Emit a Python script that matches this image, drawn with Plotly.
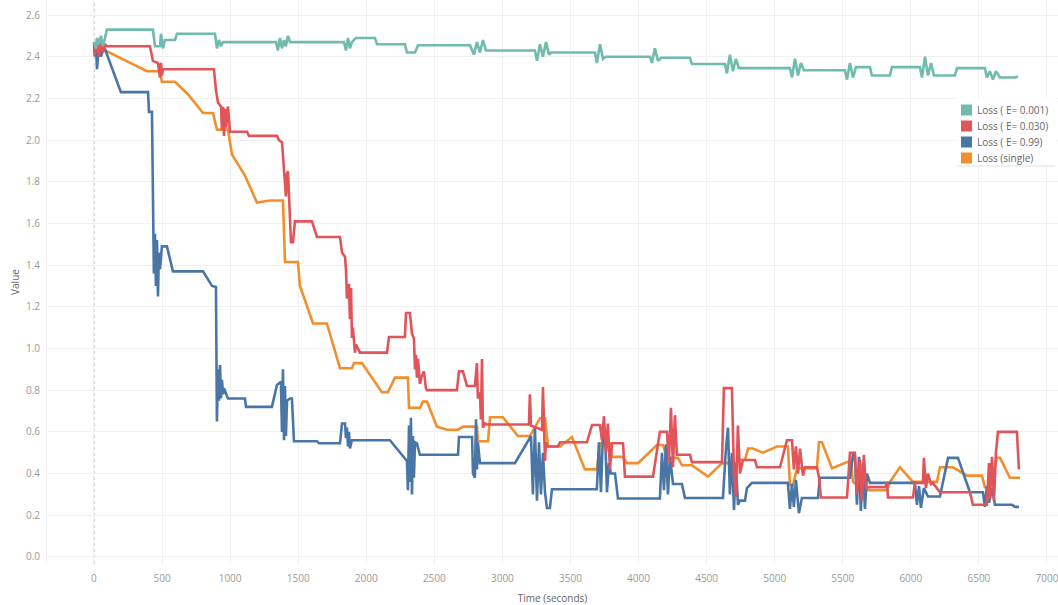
import plotly.graph_objects as go

# ---- data (time in seconds, loss values) ----
teal_t = [0, 15, 22, 37, 51, 66, 81, 95, 433, 448, 485, 492, 507, 521, 595, 610, 889, 903, 918, 933, 948,
          1337, 1351, 1366, 1381, 1396, 1410, 1425, 1440, 1836, 1851, 1866, 1880, 1895, 1924, 2064, 2079,
          2284, 2299, 2358, 2380, 2762, 2791, 2813, 2835, 2857, 2879, 3239, 3254, 3276, 3298, 3320, 3342,
          3357, 3680, 3694, 3717, 3739, 3761, 4084, 4098, 4120, 4143, 4165, 4378, 4392, 4635, 4649, 4671,
          4693, 4715, 4737, 5112, 5127, 5149, 5171, 5193, 5215, 5516, 5531, 5553, 5575, 5597, 5700, 5714,
          5847, 5861, 6067, 6082, 6104, 6126, 6148, 6170, 6324, 6339, 6544, 6559, 6581, 6603, 6625, 6655,
          6765, 6787]
teal_v = [2.47, 2.44, 2.49, 2.46, 2.50, 2.45, 2.49, 2.53, 2.53, 2.45, 2.45, 2.51, 2.44, 2.48, 2.48, 2.51, 2.51,
          2.44, 2.48, 2.45, 2.47, 2.47, 2.43, 2.49, 2.44, 2.48, 2.45, 2.50, 2.47, 2.47, 2.43, 2.49, 2.44,
          2.47, 2.49, 2.49, 2.46, 2.46, 2.42, 2.42, 2.455, 2.455, 2.41, 2.47, 2.42, 2.48, 2.43, 2.43, 2.38,
          2.46, 2.40, 2.47, 2.41, 2.42, 2.42, 2.37, 2.46, 2.39, 2.40, 2.40, 2.37, 2.44, 2.38, 2.395, 2.395,
          2.365, 2.365, 2.32, 2.41, 2.33, 2.39, 2.345, 2.345, 2.30, 2.39, 2.31, 2.37, 2.335, 2.335, 2.29,
          2.37, 2.30, 2.35, 2.35, 2.31, 2.31, 2.35, 2.35, 2.30, 2.40, 2.31, 2.37, 2.31, 2.31, 2.345, 2.345,
          2.30, 2.33, 2.29, 2.33, 2.30, 2.30, 2.305]

red_t = [0, 7, 22, 37, 51, 66, 81, 95, 411, 433, 470, 485, 492, 499, 507, 881, 896, 911, 933, 940, 948, 955,
         962, 970, 984, 999, 1124, 1139, 1344, 1359, 1381, 1396, 1403, 1410, 1418, 1425, 1440, 1447, 1462,
         1476, 1601, 1638, 1807, 1822, 1844, 1851, 1858, 1873, 1880, 1888, 1895, 1902, 1917, 1924, 1954,
         2152, 2167, 2284, 2292, 2321, 2336, 2350, 2358, 2365, 2372, 2380, 2394, 2409, 2424, 2438, 2446,
         2666, 2681, 2710, 2740, 2798, 2813, 2820, 2835, 2842, 2850, 2857, 2872, 2887, 3195, 3202, 3210,
         3291, 3298, 3305, 3313, 3320, 3327, 3408, 3423, 3621, 3658, 3717, 3731, 3746, 3761, 3775, 3790,
         3805, 3886, 3900, 4106, 4157, 4209, 4223, 4238, 4253, 4267, 4282, 4378, 4392, 4613, 4627, 4686,
         4701, 4715, 4730, 4745, 4767, 4855, 4870, 5039, 5090, 5127, 5141, 5156, 5171, 5186, 5208, 5222,
         5310, 5325, 5340, 5531, 5553, 5589, 5604, 5626, 5641, 5655, 5670, 5700, 5817, 5825, 5832, 6016,
         6030, 6089, 6096, 6111, 6126, 6148, 6162, 6214, 6434, 6456, 6559, 6574, 6581, 6596, 6611, 6625,
         6640, 6779, 6794]
red_v = [2.45, 2.41, 2.47, 2.40, 2.48, 2.42, 2.46, 2.45, 2.45, 2.38, 2.37, 2.30, 2.37, 2.31, 2.34, 2.34, 2.24,
         2.18, 2.16, 2.05, 2.16, 2.02, 2.15, 2.06, 2.16, 2.04, 2.04, 2.02, 2.02, 2.00, 1.99, 1.86, 1.80, 1.73,
         1.84, 1.85, 1.62, 1.51, 1.51, 1.61, 1.61, 1.535, 1.535, 1.46, 1.44, 1.38, 1.24, 1.31, 1.14, 1.29,
         1.05, 1.10, 0.98, 1.02, 0.98, 0.98, 1.055, 1.055, 1.17, 1.17, 1.07, 1.05, 0.90, 0.97, 0.86, 0.95,
         0.83, 0.87, 0.89, 0.81, 0.80, 0.80, 0.89, 0.89, 0.82, 0.82, 0.93, 0.76, 0.79, 0.66, 0.95, 0.62,
         0.64, 0.635, 0.635, 0.78, 0.63, 0.61, 0.815, 0.62, 0.46, 0.55, 0.53, 0.53, 0.55, 0.55, 0.633, 0.633,
         0.56, 0.675, 0.50, 0.64, 0.42, 0.545, 0.545, 0.385, 0.385, 0.60, 0.60, 0.45, 0.715, 0.43, 0.68,
         0.49, 0.49, 0.455, 0.455, 0.81, 0.81, 0.40, 0.29, 0.63, 0.40, 0.465, 0.465, 0.43, 0.43, 0.56, 0.56,
         0.42, 0.53, 0.40, 0.52, 0.39, 0.43, 0.43, 0.385, 0.285, 0.285, 0.50, 0.50, 0.30, 0.47, 0.27, 0.49,
         0.33, 0.335, 0.335, 0.36, 0.285, 0.285, 0.355, 0.355, 0.475, 0.33, 0.40, 0.35, 0.355, 0.31, 0.31,
         0.25, 0.25, 0.45, 0.28, 0.48, 0.27, 0.50, 0.60, 0.60, 0.42]

blue_t = [0, 7, 15, 22, 37, 51, 73, 198, 397, 404, 426, 433, 440, 448, 455, 463, 470, 477, 485, 499, 536, 580,
          801, 867, 896, 903, 911, 918, 926, 933, 940, 948, 955, 984, 1109, 1117, 1307, 1344, 1373, 1381,
          1388, 1396, 1403, 1410, 1418, 1440, 1454, 1469, 1638, 1652, 1807, 1822, 1844, 1851, 1858, 1866,
          1873, 1880, 1895, 2174, 2299, 2306, 2314, 2321, 2328, 2336, 2343, 2350, 2358, 2372, 2394, 2674,
          2681, 2777, 2784, 2798, 2806, 2813, 2820, 2835, 2887, 3092, 3210, 3224, 3239, 3254, 3269, 3283,
          3298, 3313, 3327, 3349, 3364, 3694, 3709, 3724, 3739, 3753, 3768, 3783, 3797, 3827, 3849, 4157,
          4172, 4187, 4201, 4216, 4231, 4253, 4319, 4341, 4620, 4642, 4657, 4671, 4686, 4701, 4715, 4730,
          4745, 4782, 4796, 4833, 5097, 5112, 5127, 5141, 5156, 5178, 5200, 5318, 5332, 5553, 5575, 5589,
          5604, 5619, 5633, 5648, 5663, 5678, 5700, 6030, 6045, 6060, 6074, 6096, 6126, 6214, 6273, 6346,
          6434, 6530, 6544, 6559, 6574, 6596, 6618, 6743, 6765, 6794]
blue_v = [2.47, 2.40, 2.46, 2.34, 2.45, 2.40, 2.45, 2.23, 2.23, 2.135, 2.135, 1.55, 1.36, 1.55, 1.30, 1.52,
          1.25, 1.46, 1.38, 1.49, 1.49, 1.37, 1.37, 1.30, 1.295, 0.65, 0.90, 0.75, 0.92, 0.76, 0.85, 0.78,
          0.81, 0.76, 0.76, 0.72, 0.72, 0.825, 0.84, 0.60, 0.90, 0.56, 0.82, 0.58, 0.75, 0.76, 0.76, 0.555,
          0.555, 0.545, 0.545, 0.64, 0.64, 0.57, 0.62, 0.53, 0.60, 0.52, 0.56, 0.56, 0.46, 0.32, 0.63, 0.36,
          0.667, 0.30, 0.58, 0.38, 0.55, 0.545, 0.49, 0.49, 0.575, 0.575, 0.40, 0.38, 0.66, 0.42, 0.55, 0.45,
          0.45, 0.45, 0.58, 0.30, 0.62, 0.27, 0.55, 0.30, 0.50, 0.31, 0.235, 0.235, 0.325, 0.325, 0.55, 0.31,
          0.60, 0.62, 0.31, 0.45, 0.40, 0.40, 0.28, 0.28, 0.50, 0.32, 0.54, 0.30, 0.48, 0.35, 0.35, 0.283,
          0.283, 0.52, 0.62, 0.30, 0.50, 0.225, 0.45, 0.25, 0.27, 0.27, 0.33, 0.355, 0.355, 0.23, 0.35, 0.24,
          0.37, 0.21, 0.283, 0.283, 0.38, 0.38, 0.49, 0.49, 0.25, 0.48, 0.22, 0.45, 0.23, 0.40, 0.355, 0.355,
          0.25, 0.34, 0.235, 0.33, 0.29, 0.29, 0.475, 0.475, 0.31, 0.31, 0.24, 0.34, 0.26, 0.33, 0.25, 0.25,
          0.24, 0.24]

orange_t = [0, 81, 389, 485, 499, 595, 690, 801, 874, 903, 984, 1014, 1109, 1197, 1293, 1388, 1403, 1498,
            1513, 1609, 1711, 1807, 1895, 1910, 1968, 2115, 2159, 2211, 2306, 2314, 2394, 2417, 2446, 2519,
            2593, 2674, 2710, 2813, 2820, 2894, 2909, 3004, 3114, 3202, 3276, 3313, 3335, 3423, 3511, 3606,
            3694, 3717, 3790, 3805, 3886, 3915, 3996, 4135, 4179, 4209, 4289, 4319, 4392, 4510, 4613, 4671,
            4723, 4745, 4782, 4804, 4840, 4914, 5017, 5097, 5112, 5134, 5164, 5310, 5325, 5347, 5421, 5531,
            5560, 5575, 5670, 5825, 5847, 5920, 6016, 6192, 6214, 6309, 6412, 6522, 6544, 6581, 6632, 6655,
            6728, 6802]
orange_v = [2.46, 2.43, 2.33, 2.33, 2.28, 2.28, 2.22, 2.13, 2.13, 2.05, 2.05, 1.93, 1.83, 1.70, 1.71, 1.71,
            1.415, 1.415, 1.30, 1.12, 1.12, 0.905, 0.905, 0.93, 0.93, 0.79, 0.79, 0.86, 0.86, 0.715, 0.715,
            0.745, 0.745, 0.625, 0.61, 0.61, 0.625, 0.625, 0.555, 0.555, 0.67, 0.67, 0.58, 0.58, 0.665, 0.665,
            0.53, 0.53, 0.575, 0.42, 0.42, 0.545, 0.545, 0.48, 0.48, 0.45, 0.45, 0.537, 0.537, 0.475, 0.475,
            0.44, 0.44, 0.385, 0.45, 0.45, 0.45, 0.465, 0.465, 0.52, 0.52, 0.50, 0.53, 0.53, 0.345, 0.345,
            0.425, 0.425, 0.55, 0.55, 0.425, 0.455, 0.455, 0.36, 0.32, 0.32, 0.36, 0.43, 0.36, 0.36, 0.43, 0.43,
            0.39, 0.39, 0.335, 0.335, 0.475, 0.475, 0.38, 0.38]

series_names = ["Loss ( E= 0.001)", "Loss ( E= 0.030)", "Loss ( E= 0.99)", "Loss (single)"]
series_t = [teal_t, red_t, blue_t, orange_t]
series_v = [teal_v, red_v, blue_v, orange_v]
series_colors = ["#6fbcae", "#e0545a", "#4a76a6", "#f28e2b"]
draw_order = [3, 2, 1, 0]

x_ticks = [0, 500, 1000, 1500, 2000, 2500, 3000, 3500, 4000, 4500, 5000, 5500, 6000, 6500, 7000]
y_ticks = [0.0, 0.2, 0.4, 0.6, 0.8, 1.0, 1.2, 1.4, 1.6, 1.8, 2.0, 2.2, 2.4, 2.6]

W, H = 1058, 605
ML, MR, MT, MB = 47, 0, 0, 41
PW, PH = W - ML - MR, H - MT - MB


def px_x(px):
    return (px - ML) / PW


def px_y(py):
    return (H - MB - py) / PH


fig = go.Figure()
for i in draw_order:
    fig.add_trace(go.Scatter(x=series_t[i], y=series_v[i], mode="lines", name=series_names[i],
                             showlegend=False, line=dict(color=series_colors[i], width=2.6),
                             hoverinfo="skip"))

# zero reference line (dotted)
fig.add_shape(type="line", xref="x", yref="paper", x0=0, x1=0, y0=0, y1=1,
              line=dict(color="#b0b0b0", width=1, dash="dot"), layer="below")

# manual legend (colour squares + labels)
fig.add_shape(type="rect", xref="paper", yref="paper", x0=px_x(955), x1=px_x(1057),
              y0=px_y(166), y1=px_y(98), fillcolor="white", line=dict(width=0), layer="above")
row_y = [110, 126, 142, 158]
for name, c, ry in zip(series_names, series_colors, row_y):
    fig.add_shape(type="rect", xref="paper", yref="paper", x0=px_x(961), x1=px_x(972),
                  y0=px_y(ry + 5.5), y1=px_y(ry - 5.5), fillcolor=c, line=dict(width=0))
    fig.add_annotation(x=px_x(975), y=px_y(ry), xref="paper", yref="paper", text=name,
                       showarrow=False, xanchor="left", yanchor="middle",
                       font=dict(size=10, color="#666666"))
fig.add_shape(type="line", xref="paper", yref="paper", x0=px_x(957), x1=px_x(1055),
              y0=px_y(166), y1=px_y(166), line=dict(color="#e0e0e0", width=1))

font_family = "Open Sans, Lato, sans-serif"
fig.update_layout(
    width=W, height=H,
    margin=dict(l=ML, r=MR, t=MT, b=MB),
    paper_bgcolor="white", plot_bgcolor="white",
    font=dict(family=font_family, size=10, color="#8a8a8a"),
    showlegend=False,
    xaxis=dict(range=[-345, 7081], tickvals=x_ticks, ticktext=[str(x) for x in x_ticks],
               showgrid=True, gridcolor="#f0f0f0", gridwidth=1, zeroline=False, automargin=False,
               showline=False, ticks="", ticklabelstandoff=7, ticklabeloverflow="allow",
               tickfont=dict(size=10, color="#999999"),
               title=dict(text="Time (seconds)", font=dict(size=10, color="#666666"), standoff=11)),
    yaxis=dict(range=[-0.034, 2.672], tickvals=y_ticks, ticktext=[f"{y:.1f}" for y in y_ticks],
               showgrid=True, gridcolor="#f0f0f0", gridwidth=1, zeroline=False, automargin=False,
               showline=True, linecolor="#eeeeee", ticks="", ticklabelstandoff=4,
               ticklabeloverflow="allow", tickfont=dict(size=10, color="#999999"),
               title=dict(text="Value", font=dict(size=10, color="#666666"), standoff=4)),
)

fig.write_html("out.html", config={"displayModeBar": False},
               post_script="document.body.style.margin='0px';")
